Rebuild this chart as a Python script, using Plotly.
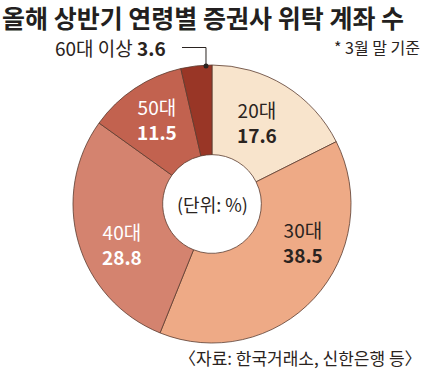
import plotly.graph_objects as go

W, H = 426, 373

categories = ["20대", "30대", "40대", "50대", "60대 이상"]
values = [17.6, 38.5, 28.8, 11.5, 3.6]
colors = ["#F8E4CC", "#EEAA86", "#D4836F", "#C2624F", "#993626"]
label_colors = ["#2a2320", "#2a2320", "#ffffff", "#ffffff", "#2a2320"]
# label block centres in pixels
label_pos = [(257, 122), (303, 242), (122, 244), (157, 119)]

title = "올해 상반기 연령별 증권사 위탁 계좌 수"
note = "* 3월 말 기준"
unit = "(단위: %)"
source = "〈자료: 한국거래소, 신한은행 등〉"

FONT = "Noto Sans CJK KR"

# pie geometry in pixels
cx, cy, R = 212, 204, 139

fig = go.Figure(go.Pie(
    labels=categories,
    values=values,
    sort=False,
    direction="clockwise",
    rotation=0,
    hole=0.355,
    marker=dict(colors=colors, line=dict(color="#5b3b2e", width=0.8)),
    textinfo="none",
    hoverinfo="label+value",
    domain=dict(x=[(cx - R) / W, (cx + R) / W], y=[1 - (cy + R) / H, 1 - (cy - R) / H]),
    showlegend=False,
))

def px(x):
    return x / W

def py(y):
    return 1 - y / H

ann = []
for i in range(4):
    x, y = label_pos[i]
    ann.append(dict(x=px(x), y=py(y), xref="paper", yref="paper", showarrow=False,
                    text="%s<br><b>%.1f</b>" % (categories[i], values[i]),
                    font=dict(family=FONT, size=19, color=label_colors[i]),
                    xanchor="center", yanchor="middle", align="center"))

# outside label for 60대 이상
ann.append(dict(x=px(53), y=py(48), xref="paper", yref="paper", showarrow=False,
                text="%s <b>%.1f</b>" % (categories[4], values[4]),
                font=dict(family=FONT, size=19, color="#2a2320"),
                xanchor="left", yanchor="middle"))

ann.append(dict(x=px(1), y=py(17), xref="paper", yref="paper", showarrow=False,
                text="<b>%s</b>" % title, font=dict(family=FONT, size=25, color="#231f20"),
                xanchor="left", yanchor="middle", borderpad=0))
ann.append(dict(x=px(422), y=py(47), xref="paper", yref="paper", showarrow=False,
                text=note, font=dict(family=FONT, size=16, color="#2a2320"),
                xanchor="right", yanchor="middle"))
ann.append(dict(x=px(cx), y=py(cy), xref="paper", yref="paper", showarrow=False,
                text=unit, font=dict(family=FONT, size=18, color="#2a2320"),
                xanchor="center", yanchor="middle"))
ann.append(dict(x=px(424), y=py(357), xref="paper", yref="paper", showarrow=False,
                text=source, font=dict(family=FONT, size=17, color="#2a2320"),
                xanchor="right", yanchor="middle"))

shapes = [
    dict(type="path", xref="paper", yref="paper",
         path="M %f %f L %f %f L %f %f" % (px(182), py(47.5), px(206), py(47.5), px(206), py(65)),
         line=dict(color="#2a2320", width=1)),
    dict(type="circle", xref="paper", yref="paper",
         x0=px(203.5), x1=px(208.5), y0=py(63.5), y1=py(68.5),
         fillcolor="#2a2320", line=dict(width=0)),
]

fig.update_layout(
    width=W, height=H,
    margin=dict(l=0, r=0, t=0, b=0),
    paper_bgcolor="white", plot_bgcolor="white",
    annotations=ann, shapes=shapes,
)

fig.write_html("out.html", config={"displayModeBar": False},
               post_script="document.body.style.margin='0';document.body.style.overflow='hidden';")
